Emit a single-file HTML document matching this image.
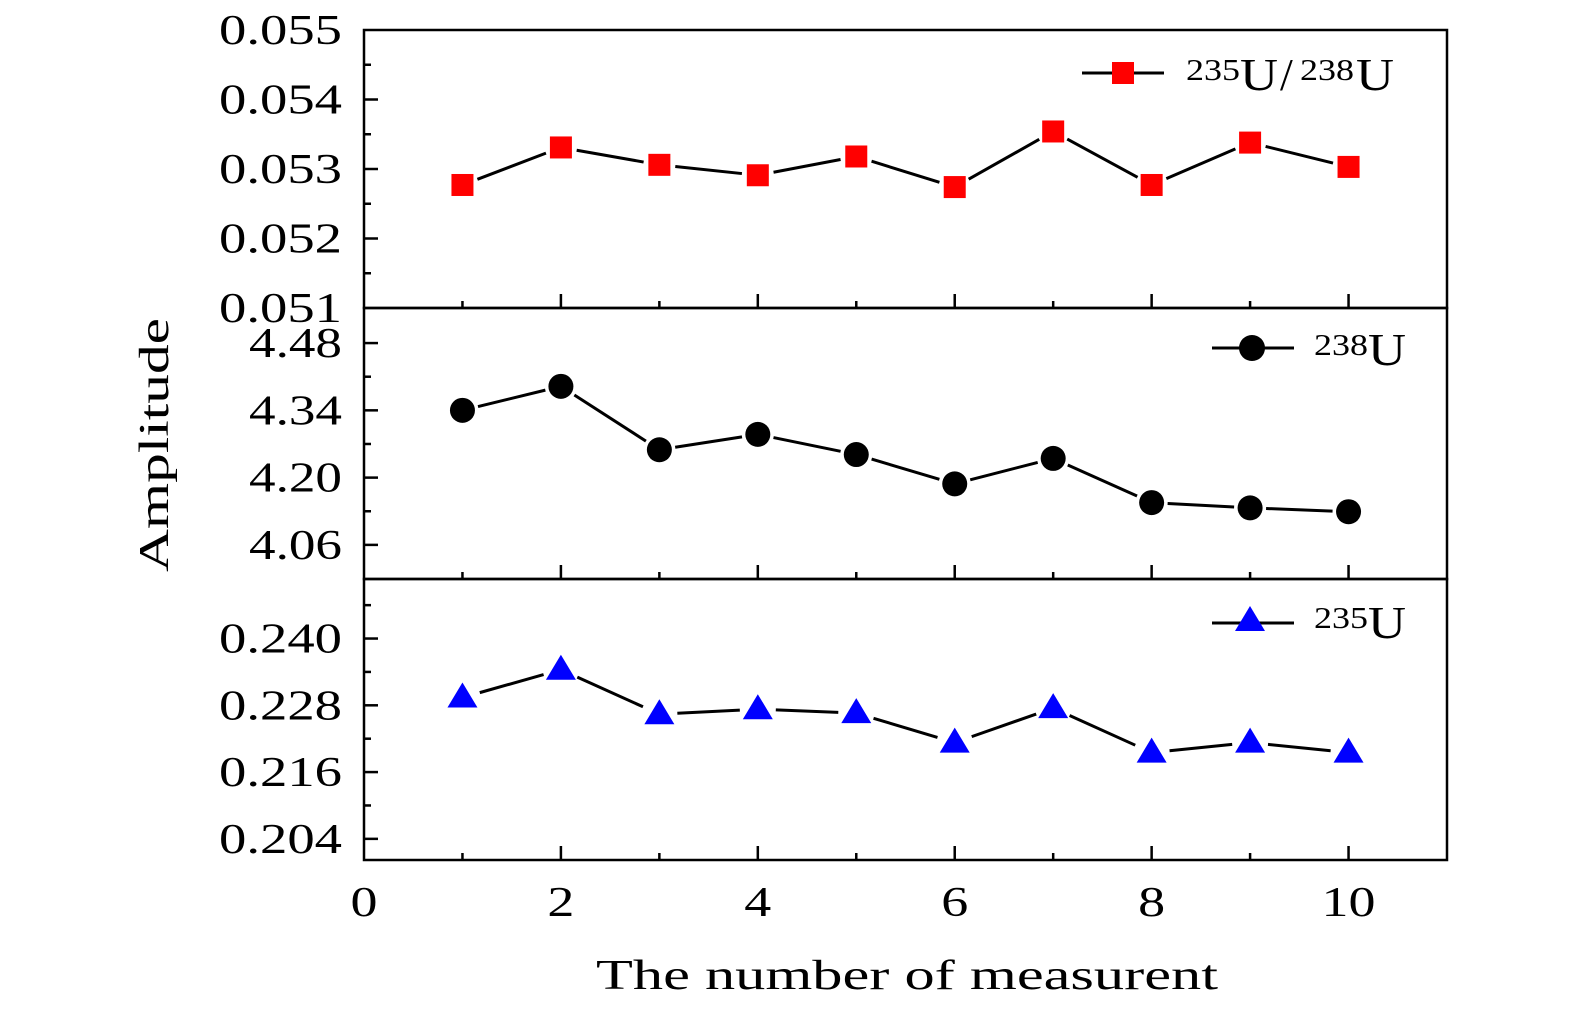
<!DOCTYPE html>
<html><head><meta charset="utf-8"><style>
html,body{margin:0;padding:0;background:#fff;}
svg{display:block;font-family:"Liberation Serif","DejaVu Serif",serif;}
</style></head><body>
<svg id="chart" width="1575" height="1014" viewBox="0 0 1575 1014" xmlns="http://www.w3.org/2000/svg">
<g id="g"></g>
<text x="596" y="989" font-size="42" textLength="622" lengthAdjust="spacingAndGlyphs">The number of measurent</text>
<text transform="translate(168,572) rotate(-90)" font-size="42" textLength="254" lengthAdjust="spacingAndGlyphs">Amplitude</text>
<g>
<line x1="1082" y1="73" x2="1164" y2="73" stroke="#000" stroke-width="3"/>
<rect x="1112" y="62" width="22" height="22" fill="#f00"/>
<text x="1186" y="80" font-size="31" textLength="54" lengthAdjust="spacingAndGlyphs">235</text>
<text x="1240" y="90" font-size="46" textLength="38" lengthAdjust="spacingAndGlyphs">U</text>
<text x="1280" y="90" font-size="46">/</text>
<text x="1300" y="80" font-size="31" textLength="54" lengthAdjust="spacingAndGlyphs">238</text>
<text x="1356" y="90" font-size="46" textLength="38" lengthAdjust="spacingAndGlyphs">U</text>
</g>
<g>
<line x1="1212" y1="348" x2="1294" y2="348" stroke="#000" stroke-width="3"/>
<circle cx="1252" cy="348" r="13" fill="#000"/>
<text x="1314" y="355" font-size="31" textLength="54" lengthAdjust="spacingAndGlyphs">238</text>
<text x="1368" y="365" font-size="46" textLength="38" lengthAdjust="spacingAndGlyphs">U</text>
</g>
<g>
<line x1="1212" y1="623" x2="1294" y2="623" stroke="#000" stroke-width="3"/>
<polygon points="1250,606 1265,631 1235,631" fill="#00f"/>
<text x="1314" y="628" font-size="31" textLength="54" lengthAdjust="spacingAndGlyphs">235</text>
<text x="1368" y="638" font-size="46" textLength="38" lengthAdjust="spacingAndGlyphs">U</text>
</g>
</svg>
<script>
const xValues=[1,2,3,4,5,6,7,8,9,10];
const ratioValues=[0.05277,0.05331,0.05306,0.05291,0.05318,0.05274,0.05354,0.05277,0.05338,0.05303];
const u238Values=[4.34,4.39,4.258,4.29,4.248,4.187,4.24,4.148,4.137,4.129];
const u235Values=[0.2294,0.2344,0.2264,0.2273,0.2266,0.2213,0.2275,0.2195,0.2213,0.2195];
const xTicks=[0,2,4,6,8,10];
const ratioTicks=["0.051","0.052","0.053","0.054","0.055"];
const u238Ticks=["4.06","4.20","4.34","4.48"];
const u235Ticks=["0.204","0.216","0.228","0.240"];

const NS="http://www.w3.org/2000/svg";
const g=document.getElementById('g');
const L=364,R=1447;
const xs=v=>L+(v-0)*(R-L)/11;
function mk(t,a){const e=document.createElementNS(NS,t);for(const k in a)e.setAttribute(k,a[k]);g.appendChild(e);return e;}
const panels=[
 {name:'ratio',top:30,bot:308,min:0.051,max:0.055,minorStep:0.0005,ticks:ratioTicks,vals:ratioValues,marker:'square'},
 {name:'u238',top:308,bot:579,min:3.989,max:4.553,minorStep:0.07,ticks:u238Ticks,vals:u238Values,marker:'circle'},
 {name:'u235',top:579,bot:860,min:0.2002,max:0.2507,minorStep:0.006,ticks:u235Ticks,vals:u235Values,marker:'triangle'}
];
panels.forEach((p,pi)=>{
 const ys=v=>p.bot-(v-p.min)*(p.bot-p.top)/(p.max-p.min);
 let e=mk('rect',{x:L,y:p.top,width:R-L,height:p.bot-p.top,fill:'none',stroke:'#000','stroke-width':2.5});
 
 
 const first=Math.ceil(p.min/p.minorStep-1e-6);
 for(let k=first;k*p.minorStep<=p.max+1e-9;k++){
  const v=k*p.minorStep,y=ys(v);
  if(y<p.top+3||y>p.bot-3)continue;
  const major=p.ticks.some(t=>Math.abs(+t-v)<p.minorStep/4);
  e=mk('line',{x1:L,y1:y,x2:L+(major?14:7),y2:y,stroke:'#000','stroke-width':2.5});
  
  
 }
 p.ticks.forEach(t=>{
  const w=t.length===5?123:93;
  e=mk('text',{x:342-w,y:ys(+t)+14,'font-size':42,textLength:w,lengthAdjust:'spacingAndGlyphs'});
  e.textContent=t;
  
  
 });
 for(let x=1;x<=10;x++){
  const major=x%2===0;
  e=mk('line',{x1:xs(x),y1:p.bot,x2:xs(x),y2:p.bot-(major?14:7),stroke:'#000','stroke-width':2.5});
  
  
 }
 const gap=p.marker==='triangle'?18:16;
 for(let i=0;i<xValues.length-1;i++){
  const x1=xs(xValues[i]),y1=ys(p.vals[i]),x2=xs(xValues[i+1]),y2=ys(p.vals[i+1]);
  const d=Math.hypot(x2-x1,y2-y1),ux=(x2-x1)/d,uy=(y2-y1)/d;
  e=mk('line',{x1:x1+ux*gap,y1:y1+uy*gap,x2:x2-ux*gap,y2:y2-uy*gap,stroke:'#000','stroke-width':3});
  
  
 }
 xValues.forEach((xv,i)=>{
  const cx=xs(xv),cy=ys(p.vals[i]);
  if(p.marker==='square')e=mk('rect',{x:cx-11,y:cy-11,width:22,height:22,fill:'#f00'});
  else if(p.marker==='circle')e=mk('circle',{cx:cx,cy:cy,r:12.5,fill:'#000'});
  else e=mk('polygon',{points:`${cx},${cy-15} ${cx+15},${cy+10} ${cx-15},${cy+10}`,fill:'#00f'});
  
  
 });
});
xTicks.forEach(t=>{
 const s=String(t),w=27*s.length;
 const e=mk('text',{x:xs(t)-w/2,y:916,'font-size':42,textLength:w,lengthAdjust:'spacingAndGlyphs'});
 e.textContent=s;
 
 
});
</script>
</body></html>
